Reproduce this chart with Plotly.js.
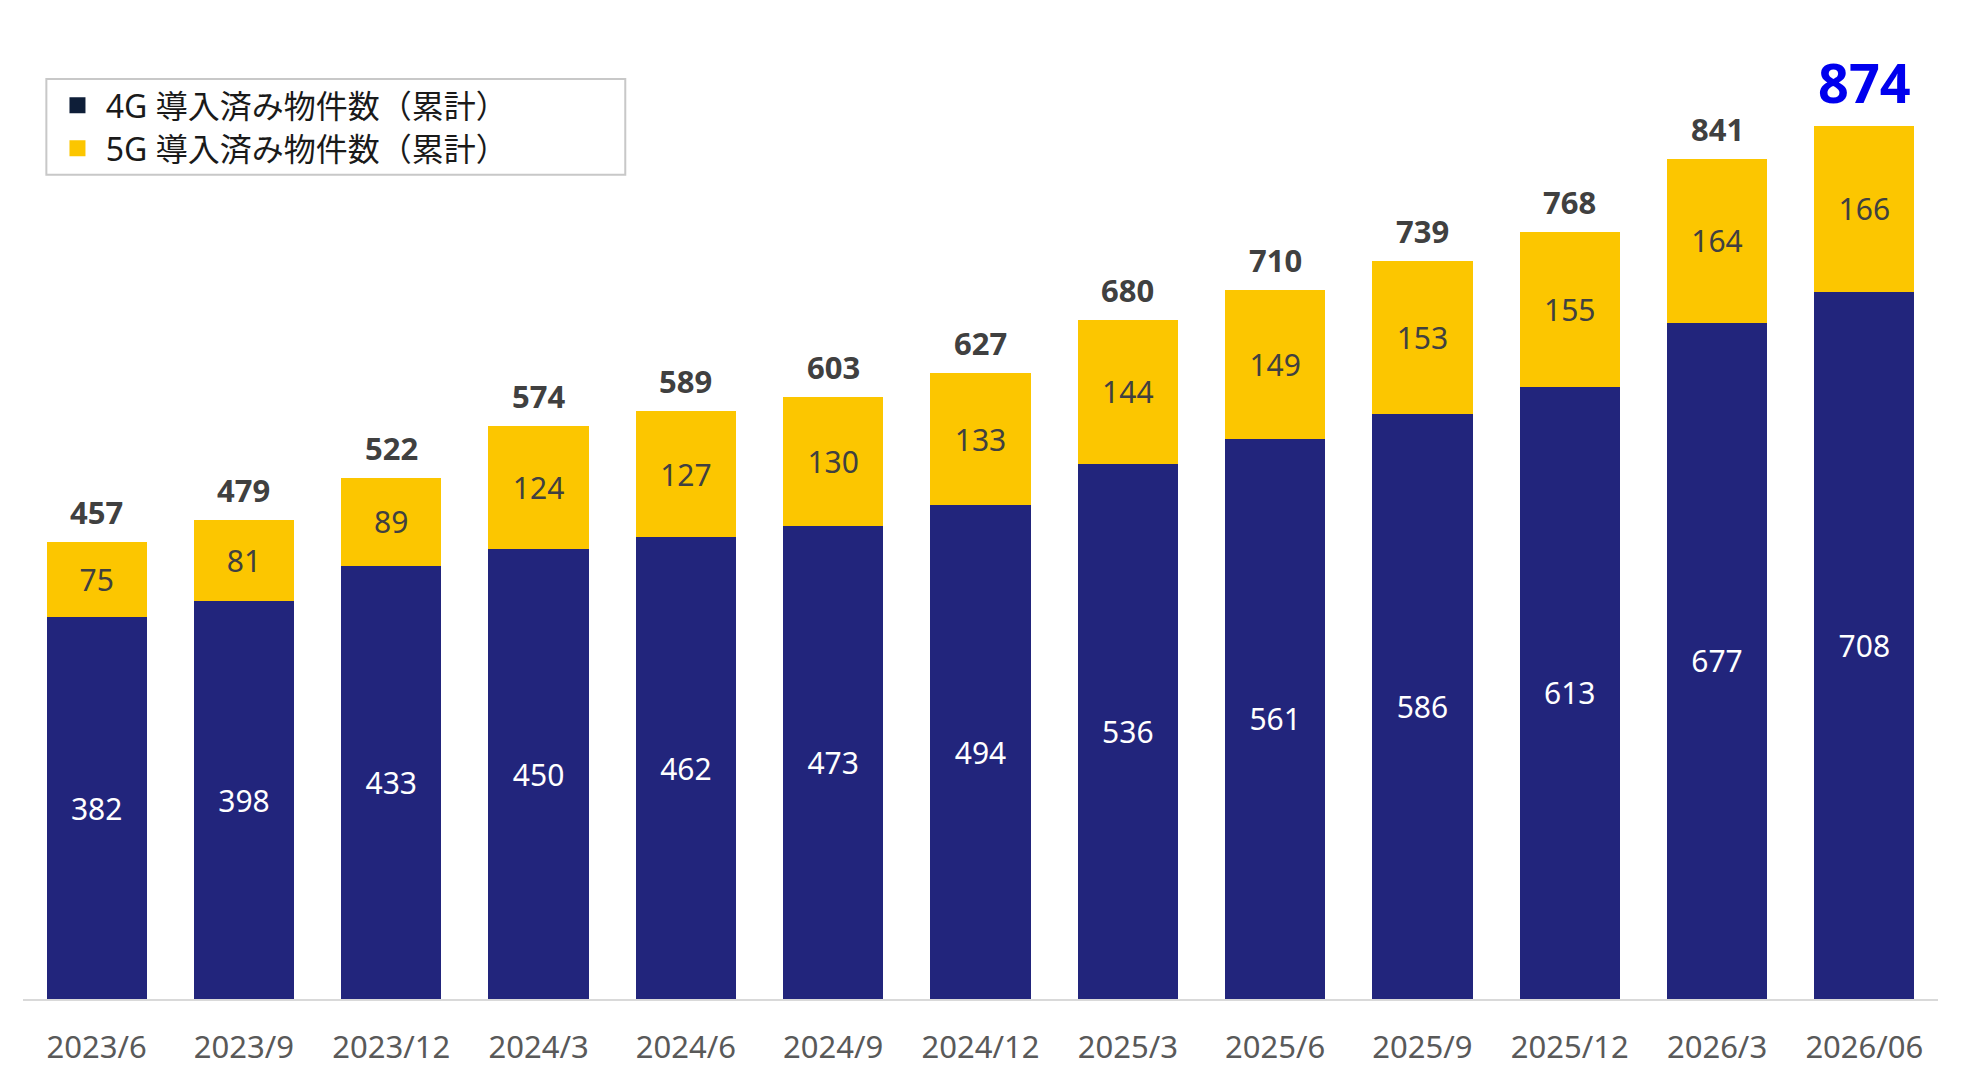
<!DOCTYPE html>
<html>
<head>
<meta charset="utf-8">
<script src="https://cdn.plot.ly/plotly-3.0.1.min.js"></script>
<style>
  html, body { margin: 0; padding: 0; background: #fff; }
  #chart { width: 1962px; height: 1074px; }
</style>
</head>
<body>
<div id="chart"></div>
<script>
// quarters (x categories)
var periods = ['2023/6', '2023/9', '2023/12', '2024/3', '2024/6', '2024/9', '2024/12',
               '2025/3', '2025/6', '2025/9', '2025/12', '2026/3', '2026/06'];

// cumulative counts
var count4G = [382, 398, 433, 450, 462, 473, 494, 536, 561, 586, 613, 677, 708];
var count5G = [75, 81, 89, 124, 127, 130, 133, 144, 149, 153, 155, 164, 166];

var name4G = '4G 導入済み物件数（累計）';
var name5G = '5G 導入済み物件数（累計）';

var totals = periods.map(function (p, i) { return count4G[i] + count5G[i]; });

var fontFamily = '"Noto Sans", "Noto Sans CJK JP", sans-serif';

var bar4G = {
  type: 'bar',
  x: periods,
  y: count4G,
  name: name4G,
  showlegend: false,
  marker: { color: '#22257c' },
  text: count4G.map(String),
  textposition: 'inside',
  insidetextanchor: 'middle',
  textangle: 0,
  textfont: { color: '#ffffff', size: 30, family: fontFamily },
  hoverinfo: 'x+y+name'
};

var bar5G = {
  type: 'bar',
  x: periods,
  y: count5G,
  name: name5G,
  showlegend: false,
  marker: { color: '#fcc600' },
  text: count5G.map(String),
  textposition: 'inside',
  insidetextanchor: 'middle',
  textangle: 0,
  textfont: { color: '#404040', size: 30, family: fontFamily },
  hoverinfo: 'x+y+name'
};

// legend-only entries (the legend swatch for 4G is darker than the bars),
// one legend each so the row spacing can be set
var legend4G = {
  type: 'scatter', mode: 'markers', x: [null], y: [null], name: '\u00a0' + name4G,
  legend: 'legend',
  marker: { symbol: 'square', size: 16, color: '#0e1e38' }, hoverinfo: 'skip'
};
var legend5G = {
  type: 'scatter', mode: 'markers', x: [null], y: [null], name: '\u00a0' + name5G,
  legend: 'legend2',
  marker: { symbol: 'square', size: 16, color: '#fcc600' }, hoverinfo: 'skip'
};

// totals on top of each stack, last one highlighted
var last = periods.length - 1;
var totalLabels = periods.map(function (p, i) {
  var isLast = i === last;
  return {
    x: p,
    y: totals[i],
    text: '<b>' + totals[i] + '</b>',
    showarrow: false,
    yanchor: 'bottom',
    yshift: isLast ? 5 : 7,
    font: {
      family: fontFamily,
      size: isLast ? 54 : 31,
      color: isLast ? '#0000ee' : '#404040'
    }
  };
});

var legendStyle = function (y) {
  return {
    x: 0.018,
    y: y,
    xanchor: 'left',
    yanchor: 'top',
    bgcolor: 'rgba(0,0,0,0)',
    borderwidth: 0,
    font: { size: 32, color: '#1a1a1a', family: fontFamily }
  };
};

var layout = {
  width: 1962,
  height: 1074,
  margin: { l: 23, r: 24, t: 0, b: 75 },
  paper_bgcolor: '#ffffff',
  plot_bgcolor: '#ffffff',
  barmode: 'stack',
  bargap: 0.32,
  font: { family: fontFamily },
  xaxis: {
    type: 'category',
    showgrid: false,
    showline: true,
    linecolor: '#d9d9d9',
    linewidth: 2,
    ticks: '',
    ticklabelstandoff: 20,
    tickfont: { size: 31, color: '#595959', family: fontFamily }
  },
  yaxis: {
    range: [0, 1000],
    visible: false,
    showgrid: false,
    zeroline: false
  },
  showlegend: true,
  legend: legendStyle(0.922),
  legend2: legendStyle(0.879),
  shapes: [
    // legend frame
    {
      type: 'rect', xref: 'paper', yref: 'paper',
      x0: 0.0122, x1: 0.3145, y0: 0.825, y1: 0.921,
      line: { color: '#c8c8c8', width: 2 },
      fillcolor: 'rgba(0,0,0,0)'
    }
  ],
  annotations: totalLabels
};

Plotly.newPlot('chart', [bar4G, bar5G, legend4G, legend5G], layout, { displayModeBar: false });
</script>
</body>
</html>
